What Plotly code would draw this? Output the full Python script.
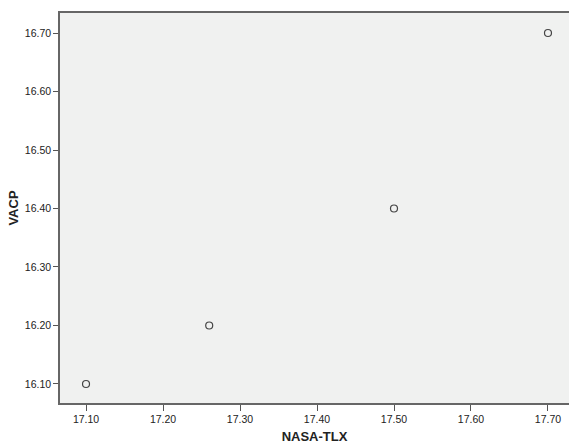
import plotly.graph_objects as go

nasa_tlx = [17.10, 17.26, 17.50, 17.70]
vacp = [16.10, 16.20, 16.40, 16.70]

x_ticks = [17.10, 17.20, 17.30, 17.40, 17.50, 17.60, 17.70]
y_ticks = [16.10, 16.20, 16.30, 16.40, 16.50, 16.60, 16.70]

fig = go.Figure()
fig.add_trace(go.Scatter(
    x=nasa_tlx, y=vacp, mode="markers",
    marker=dict(symbol="circle-open", size=7, color="#444444", line=dict(width=1.2)),
    showlegend=False, hoverinfo="x+y",
))

font_family = "Liberation Sans, Arial, sans-serif"
fig.update_layout(
    width=569, height=447,
    margin=dict(l=60, r=0, t=13, b=44),
    paper_bgcolor="white",
    plot_bgcolor="#F0F1F0",
    font=dict(family=font_family, size=11, color="#222222"),
    xaxis=dict(
        range=[17.0662, 17.7273],
        tickvals=x_ticks,
        ticktext=[f"{v:.2f}" for v in x_ticks],
        ticks="outside", ticklen=6, tickwidth=1, tickcolor="#555555",
        showline=True, linecolor="#666666", linewidth=1.5, mirror=True,
        showgrid=False, zeroline=False,
        tickfont=dict(size=10.5, color="#222222"),
        title=dict(text="NASA-TLX", font=dict(size=13, color="#222222", family=font_family, weight="bold"), standoff=8),
    ),
    yaxis=dict(
        range=[16.0675, 16.7342],
        tickvals=y_ticks,
        ticktext=[f"{v:.2f}" for v in y_ticks],
        ticks="outside", ticklen=5, tickwidth=1, tickcolor="#555555",
        showline=True, linecolor="#666666", linewidth=1.5,
        showgrid=False, zeroline=False,
        tickfont=dict(size=10.5, color="#222222"),
        title=dict(text="VACP", font=dict(size=13, color="#222222", family=font_family, weight="bold"), standoff=3),
    ),
)

# remove the default page margin so the figure sits at the window's corner
fig.write_html(
    "out.html",
    config={"displayModeBar": False},
    post_script="document.body.style.margin='0';document.body.style.overflow='hidden';",
)
